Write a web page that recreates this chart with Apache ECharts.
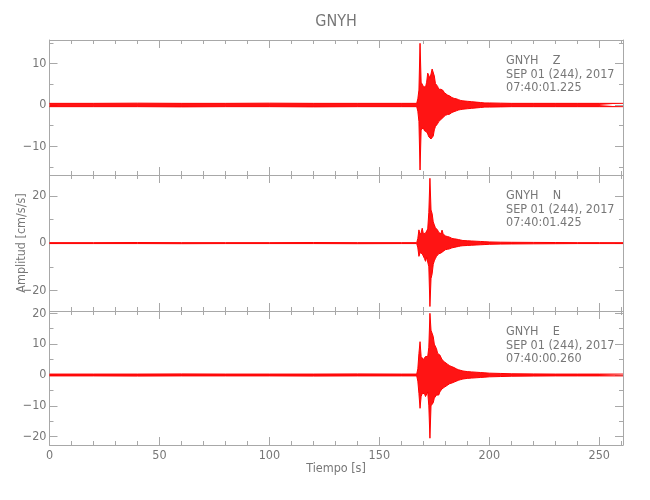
<!DOCTYPE html>
<html>
<head>
<meta charset="utf-8">
<script src="https://cdn.jsdelivr.net/npm/echarts@6/dist/echarts.min.js"></script>
<style>html,body{margin:0;padding:0;background:#fff}#c{width:650px;height:500px}</style>
</head>
<body>
<div id="c"></div>
<script>
// ---- data (envelope of each trace) ----
const chartTitle = 'GNYH';
const xName = 'Tiempo [s]';
const yName = 'Amplitud [cm/s/s]';
const xTickLabels = [0, 50, 100, 150, 200, 250];

// shared time samples (s)
const tEnv = [0, 20, 40, 60, 80, 100, 120, 140, 160,
  167, 167.5, 168, 168.5, 169, 169.5, 170, 170.5, 171, 171.5, 172, 172.5, 173, 173.5,
  174, 174.5, 175, 175.5, 176, 176.5, 177, 177.5, 178, 178.5, 179, 179.5, 180,
  181, 182, 183, 184, 185, 186, 187, 188,
  190, 192, 194, 196, 198, 200,
  205, 210, 220, 230, 240, 250, 260.8];

// Z component: upper / lower envelope
const zUp = [0.4, 0.4, 0.45, 0.4, 0.4, 0.45, 0.4, 0.4, 0.4,
  0.4, 1.5, 3.6, 14.9, 5.5, 5.2, 4.5, 4.6, 4.3, 5.5, 7.7, 7.8, 6.5, 7.5,
  8.7, 8.5, 7.0, 5.2, 5.0, 4.5, 3.8, 3.6, 3.8, 4.2, 3.5, 3.0, 2.6,
  2.4, 2.2, 1.8, 1.6, 1.5, 1.3, 1.1, 1.0,
  0.9, 0.8, 0.7, 0.6, 0.5, 0.5,
  0.45, 0.4, 0.4, 0.4, 0.4, 0.4, 0.4];
const zLo = [-0.4, -0.4, -0.4, -0.45, -0.4, -0.4, -0.45, -0.4, -0.4,
  -0.4, -1.5, -4.0, -15.7, -6.0, -6.0, -5.5, -6.2, -5.8, -6.5, -7.0, -7.7, -8.0, -8.2,
  -8.5, -7.5, -6.0, -5.2, -4.8, -4.5, -4.0, -3.8, -3.5, -3.4, -3.0, -2.8, -2.5,
  -2.3, -2.2, -1.8, -1.6, -1.4, -1.2, -1.1, -1.0,
  -0.9, -0.8, -0.7, -0.6, -0.5, -0.5,
  -0.45, -0.4, -0.4, -0.4, -0.4, -0.4, -0.4];

// N component
const nUp = [0.2, 0.2, 0.25, 0.2, 0.2, 0.2, 0.25, 0.2, 0.2,
  0.2, 2.0, 5.6, 3.5, 4.5, 6.3, 4.0, 3.8, 4.2, 4.5, 6.0, 13.0, 27.4, 14.0,
  12.5, 9.0, 7.7, 6.5, 6.3, 5.5, 4.5, 4.2, 4.0, 5.5, 4.0, 3.5, 3.0,
  2.8, 2.5, 2.0, 1.8, 1.7, 1.5, 1.3, 1.1,
  1.0, 0.9, 0.8, 0.7, 0.6, 0.5,
  0.4, 0.35, 0.3, 0.25, 0.2, 0.2, 0.2];
const nLo = [-0.2, -0.2, -0.2, -0.25, -0.2, -0.2, -0.2, -0.25, -0.2,
  -0.2, -2.0, -5.6, -4.0, -4.0, -4.5, -5.0, -6.5, -7.7, -6.0, -6.5, -10.0, -26.8, -15.0,
  -13.0, -9.0, -7.5, -6.5, -5.6, -5.0, -4.5, -4.3, -4.2, -4.0, -3.5, -3.2, -2.8,
  -2.6, -2.4, -2.0, -1.8, -1.6, -1.4, -1.2, -1.1,
  -1.0, -0.9, -0.8, -0.7, -0.6, -0.5,
  -0.4, -0.35, -0.3, -0.25, -0.2, -0.2, -0.2];

// E component
const eUp = [0.3, 0.3, 0.3, 0.35, 0.3, 0.3, 0.3, 0.35, 0.3,
  0.3, 2.0, 7.0, 10.8, 6.0, 5.4, 5.0, 5.5, 6.0, 5.5, 6.0, 9.0, 20.0, 14.5,
  14.0, 12.5, 10.0, 10.0, 8.5, 7.0, 7.0, 6.5, 6.0, 5.0, 4.5, 4.3, 4.0,
  3.5, 3.0, 2.7, 2.4, 2.0, 1.7, 1.5, 1.3,
  1.1, 1.0, 0.9, 0.8, 0.7, 0.6,
  0.5, 0.4, 0.35, 0.3, 0.3, 0.3, 0.3];
const eLo = [-0.3, -0.3, -0.35, -0.3, -0.3, -0.3, -0.35, -0.3, -0.3,
  -0.3, -2.0, -6.0, -10.8, -7.0, -6.0, -5.5, -6.0, -7.0, -6.5, -5.5, -10.0, -20.5, -10.0,
  -10.5, -9.0, -7.5, -7.0, -6.5, -6.0, -6.5, -5.5, -5.0, -4.5, -4.3, -4.0, -3.8,
  -3.3, -2.8, -2.6, -2.3, -2.0, -1.7, -1.5, -1.3,
  -1.1, -1.0, -0.9, -0.8, -0.7, -0.6,
  -0.5, -0.4, -0.35, -0.3, -0.3, -0.3, -0.3];

const components = ['Z', 'N', 'E'];
const dateLine = 'SEP 01 (244), 2017';
const startTimes = ['07:40:01.225', '07:40:01.425', '07:40:00.260'];
const yMajorTicks = [[-10, 0, 10], [-20, 0, 20], [-20, -10, 0, 10, 20]];
const yMinorTicks = [[-15, -10, -5, 0, 5, 10, 15], [-20, -10, 0, 10, 20],
  [-20, -15, -10, -5, 0, 5, 10, 15, 20]];

// ---- layout / style ----
const FONT = "'Liberation Sans Narrow','DejaVu Sans Condensed','Roboto Condensed',sans-serif";
const AX = '#a8a8a8', TXT = '#777777', RED = '#ff0000';
const FS = 12.5;
const X0 = 49.5, XW = 573.5, XMIN = 0, XMAX = 260.8;
const panels = [
  { top: 40, height: 135, min: -16.9, max: 15.7 },
  { top: 175, height: 136, min: -28.7, max: 28.8 },
  { top: 311, height: 134, min: -22.7, max: 20.75 }
];
const ups = [zUp, nUp, eUp], los = [zLo, nLo, eLo];

const grid = [], xAxis = [], yAxis = [], series = [], graphic = [];
const fmtNum = v => String(v).replace('-', '\u2212');

panels.forEach((p, g) => {
  grid.push({ left: X0, width: XW, top: p.top, height: p.height });
  ['bottom', 'top'].forEach(pos => {
    [10, 50].forEach(iv => {
      const isMajor = iv === 50;
      const showLab = isMajor && pos === 'bottom' && g === 2;
      xAxis.push({
        type: 'value', gridIndex: g, position: pos, min: XMIN, max: XMAX, interval: iv, z: 0,
        axisLine: { show: isMajor, onZero: false, lineStyle: { color: AX, width: 1 } },
        axisTick: { show: true, inside: true, length: isMajor ? 8 : 4, lineStyle: { color: AX } },
        axisLabel: {
          show: showLab, margin: 4, color: TXT, fontFamily: FONT, fontSize: FS,
          formatter: v => xTickLabels.indexOf(v) >= 0 ? fmtNum(v) : ''
        },
        splitLine: { show: false }
      });
    });
  });
  ['left', 'right'].forEach(pos => {
    [yMinorTicks[g], yMajorTicks[g]].forEach((vals, k) => {
      const isMajor = k === 1;
      const showLab = isMajor && pos === 'left';
      yAxis.push({
        type: 'value', gridIndex: g, position: pos, min: p.min, max: p.max, z: 0,
        axisLine: { show: isMajor, onZero: false, lineStyle: { color: AX, width: 1 } },
        axisTick: { show: true, inside: true, length: isMajor ? 8 : 4, lineStyle: { color: AX },
          customValues: vals },
        axisLabel: {
          show: showLab, margin: 3, color: TXT, fontFamily: FONT, fontSize: FS,
          customValues: vals,
          formatter: v => fmtNum(v)
        },
        splitLine: { show: false }
      });
    });
  });
  const xi = 4 * g + 1, yi = 4 * g + 1;
  [ups[g], los[g]].forEach(arr => {
    series.push({
      type: 'line', xAxisIndex: xi, yAxisIndex: yi,
      data: tEnv.map((t, i) => [t, arr[i]]),
      showSymbol: false, symbol: 'none', silent: true, animation: false,
      lineStyle: { color: RED, width: 1 },
      areaStyle: { color: RED, opacity: 0.92, origin: 0 },
      z: 10
    });
  });
  const dy = p.top - 40;
  [['GNYH    ' + components[g], 61], [dateLine, 74.5], [startTimes[g], 88]].forEach(([txt, y]) => {
    graphic.push({
      type: 'text', x: 506, y: y + dy, silent: true,
      style: { text: txt, fill: TXT, font: FS + 'px ' + FONT, align: 'left', verticalAlign: 'middle' }
    });
  });
});

graphic.push({
  type: 'text', x: 336, y: 22, silent: true,
  style: { text: chartTitle, fill: TXT, font: '16px ' + FONT, align: 'center', verticalAlign: 'middle' }
});
graphic.push({
  type: 'text', x: 336, y: 469, silent: true,
  style: { text: xName, fill: TXT, font: FS + 'px ' + FONT, align: 'center', verticalAlign: 'middle' }
});
graphic.push({
  type: 'text', x: 22, y: 243, rotation: Math.PI / 2, silent: true,
  style: { text: yName, fill: TXT, font: FS + 'px ' + FONT, align: 'center', verticalAlign: 'middle' }
});

const chart = echarts.init(document.getElementById('c'), null, { renderer: 'canvas' });
chart.setOption({
  animation: false,
  backgroundColor: '#ffffff',
  grid, xAxis, yAxis, series, graphic
});
</script>
</body>
</html>
